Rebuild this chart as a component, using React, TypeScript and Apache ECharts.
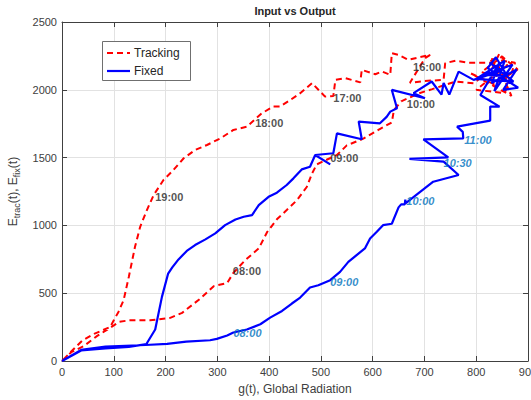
import React, { useEffect, useRef } from "react";
import * as echarts from "echarts";

// ---- Data ----
const xTickInterval = 100;
const xMin = 0;
const xMax = 900;
const yTickInterval = 500;
const yMin = 0;
const yMax = 2500;

// Tracking (red dashed) – morning climb, noon cluster, afternoon descent
const trackingMorning: [number, number][] = [
  [0, 0], [18, 65], [42, 110], [68, 185], [93, 245], [110, 288], [129, 300], [170, 300],
  [209, 318], [232, 355], [267, 460], [293, 552], [319, 575], [331, 650], [354, 744],
  [380, 830], [396, 950], [415, 1045], [434, 1113], [454, 1187], [473, 1285], [483, 1384],
  [492, 1450], [531, 1519], [550, 1590], [582, 1640], [611, 1704], [637, 1760], [641, 1850],
  [655, 1915], [690, 1975], [715, 2005], [735, 2030], [760, 2060], [795, 2049],
];
const trackingNoon: [number, number][] = [
  [830, 2150], [845, 2270], [860, 2180], [800, 2000], [855, 1975], [875, 2200], [825, 2230],
  [865, 2080], [810, 2130], [850, 2245], [880, 2150], [835, 2040], [790, 2120], [868, 1955],
  [840, 2200], [785, 2200], [760, 2215],
];
const trackingAfternoon: [number, number][] = [
  [740, 2196], [737, 2073], [700, 2065], [672, 2052], [701, 2233], [711, 2258], [669, 2221],
  [650, 2258], [637, 2270], [634, 2110], [618, 2135], [605, 2115], [579, 2147], [576, 2055],
  [547, 2086], [528, 2073], [524, 1954], [508, 1950], [483, 2049], [460, 1975], [441, 1925],
  [421, 1876], [408, 1876], [386, 1827], [357, 1728], [331, 1704], [306, 1642], [280, 1593],
  [257, 1556], [235, 1495], [215, 1408], [196, 1335], [177, 1224], [164, 1113], [151, 990],
  [141, 842], [129, 620], [119, 448], [109, 362], [100, 300], [93, 251], [62, 200], [39, 150],
  [15, 60], [0, 0],
];

// Fixed (blue solid)
const fixedMorning: [number, number][] = [
  [0, 0], [37, 82], [84, 106], [161, 118], [203, 126], [240, 143], [286, 153], [299, 163],
  [319, 188], [331, 210], [357, 232], [383, 271], [402, 320], [425, 369], [444, 424],
  [460, 468], [479, 542], [495, 559], [518, 596], [537, 657], [553, 731], [569, 781],
  [585, 830], [595, 904], [608, 953], [620, 1002], [637, 1012], [650, 1133], [655, 1155],
  [662, 1155], [663, 1190], [664, 1165], [717, 1322], [766, 1372], [737, 1470], [671, 1490],
  [746, 1502], [698, 1635], [775, 1642], [774, 1690], [763, 1728], [827, 1773], [827, 1876],
  [845, 1876], [808, 1962],
];
const fixedNoon: [number, number][] = [
  [845, 2200], [830, 2050], [878, 2150], [852, 2000], [881, 2015], [822, 2160], [838, 2240],
  [860, 2100], [815, 2110], [870, 2185], [835, 1990], [855, 2215], [800, 2080], [872, 2060],
  [826, 2200], [848, 2140], [795, 2073],
];
const fixedAfternoon: [number, number][] = [
  [766, 2134], [748, 1965], [737, 2050], [733, 1965], [714, 2061], [679, 1975], [701, 1938],
  [637, 1999], [647, 1864], [634, 1839], [627, 1800], [614, 1753], [573, 1765], [579, 1635],
  [531, 1679], [524, 1532], [489, 1519], [518, 1450], [489, 1519], [479, 1433], [463, 1413],
  [447, 1347], [434, 1298], [415, 1241], [399, 1211], [380, 1150], [367, 1076], [351, 1064],
  [335, 1044], [315, 1002], [296, 941], [277, 897], [257, 855], [241, 812], [225, 749],
  [213, 690], [205, 645], [193, 473], [180, 232], [163, 125], [129, 104], [84, 92], [37, 78],
  [0, 0],
];

// Time annotations (left edge x, vertical centre y, in data units)
const trackingLabelText = ["08:00", "09:00", "10:00", "16:00", "17:00", "18:00", "19:00"];
const trackingLabelX = [330, 518, 666, 678, 524, 373, 180];
const trackingLabelY = [665, 1495, 1894, 2167, 1942, 1758, 1208];

const fixedLabelText = ["08:00", "09:00", "10:00", "10:30", "11:00"];
const fixedLabelX = [331, 518, 665, 737, 777];
const fixedLabelY = [210, 583, 1182, 1462, 1630];

const seriesNames = ["Tracking", "Fixed"];
const seriesColors = ["#ff0000", "#0000ff"];

const FONT = "'Liberation Sans', Arial, Helvetica, sans-serif";

export default function App() {
  const ref = useRef<HTMLDivElement>(null);

  useEffect(() => {
    if (!ref.current) return;
    const chart = echarts.init(ref.current, undefined, { renderer: "svg" });

    const trackingData = [...trackingMorning, ...trackingNoon, ...trackingAfternoon];
    const fixedData = [...fixedMorning, ...fixedNoon, ...fixedAfternoon];

    const axisColor = "#404040";
    const gridColor = "#e2e2e2";
    const plainNum = (v: number) => String(v);

    // manual legend box (MATLAB style)
    const legendLeft = 102;
    const legendTop = 41;
    const legendGraphic = [
      {
        type: "rect",
        shape: { x: legendLeft + 0.5, y: legendTop + 0.5, width: 88, height: 39 },
        style: { fill: "#ffffff", stroke: "#6f6f6f", lineWidth: 1 },
        z: 100,
      },
      {
        type: "line",
        shape: { x1: legendLeft + 5, y1: legendTop + 12, x2: legendLeft + 28, y2: legendTop + 12 },
        style: { stroke: seriesColors[0], lineWidth: 2, lineDash: [6, 4] },
        z: 101,
      },
      {
        type: "line",
        shape: { x1: legendLeft + 5, y1: legendTop + 30, x2: legendLeft + 28, y2: legendTop + 30 },
        style: { stroke: seriesColors[1], lineWidth: 2.2 },
        z: 101,
      },
      {
        type: "text",
        x: legendLeft + 32,
        y: legendTop + 12,
        style: {
          text: seriesNames[0],
          fontFamily: FONT,
          fontSize: 12,
          fill: "#262626",
          textVerticalAlign: "middle",
        },
        z: 101,
      },
      {
        type: "text",
        x: legendLeft + 32,
        y: legendTop + 30,
        style: {
          text: seriesNames[1],
          fontFamily: FONT,
          fontSize: 12,
          fill: "#262626",
          textVerticalAlign: "middle",
        },
        z: 101,
      },
    ];

    const option: any = {
      animation: false,
      backgroundColor: "#ffffff",
      textStyle: { fontFamily: FONT },
      grid: { left: 62, right: 3, top: 22, bottom: 39, containLabel: false, outerBoundsMode: "none" },
      graphic: [
        {
          type: "text",
          x: 295,
          y: 11,
          style: {
            text: "Input vs Output",
            fontFamily: FONT,
            fontSize: 11,
            fontWeight: "bold",
            fill: "#262626",
            textAlign: "center",
            textVerticalAlign: "middle",
          },
        },
        ...legendGraphic,
      ],
      xAxis: [
        {
          type: "value",
          min: xMin,
          max: xMax,
          interval: xTickInterval,
          name: "g(t), Global Radiation",
          nameLocation: "middle",
          nameGap: 22,
          nameTextStyle: { fontSize: 12, color: axisColor, fontFamily: FONT },
          axisLine: { show: true, onZero: false, lineStyle: { color: axisColor, width: 1 } },
          axisTick: { show: true, inside: true, length: 5, lineStyle: { color: axisColor } },
          axisLabel: { color: axisColor, fontSize: 11, margin: 5, fontFamily: FONT, formatter: plainNum },
          splitLine: { show: true, lineStyle: { color: gridColor, width: 1 } },
        },
        {
          type: "value",
          position: "top",
          min: xMin,
          max: xMax,
          interval: xTickInterval,
          axisLine: { show: true, onZero: false, lineStyle: { color: axisColor, width: 1 } },
          axisTick: { show: true, inside: true, length: 5, lineStyle: { color: axisColor } },
          axisLabel: { show: false },
          splitLine: { show: false },
        },
      ],
      yAxis: [
        {
          type: "value",
          min: yMin,
          max: yMax,
          interval: yTickInterval,
          name: "{e|E}{s|trac}{e|(t), E}{s|fix}{e|(t)}",
          nameLocation: "middle",
          nameRotate: 90,
          nameGap: 33,
          nameTextStyle: {
            color: axisColor,
            fontFamily: FONT,
            rich: {
              e: { fontSize: 12, color: axisColor, fontFamily: FONT },
              s: { fontSize: 9, color: axisColor, fontFamily: FONT, padding: [9, 0, 0, 0] },
            },
          },
          axisLine: { show: true, onZero: false, lineStyle: { color: axisColor, width: 1 } },
          axisTick: { show: true, inside: true, length: 5, lineStyle: { color: axisColor } },
          axisLabel: { color: axisColor, fontSize: 11, margin: 5, fontFamily: FONT, formatter: plainNum },
          splitLine: { show: true, lineStyle: { color: gridColor, width: 1 } },
        },
        {
          type: "value",
          position: "right",
          min: yMin,
          max: yMax,
          interval: yTickInterval,
          axisLine: { show: true, onZero: false, lineStyle: { color: axisColor, width: 1 } },
          axisTick: { show: true, inside: true, length: 5, lineStyle: { color: axisColor } },
          axisLabel: { show: false },
          splitLine: { show: false },
        },
      ],
      series: [
        {
          name: seriesNames[0],
          type: "line",
          data: trackingData,
          symbol: "none",
          smooth: false,
          lineStyle: { color: seriesColors[0], width: 2, type: [6, 4] },
          itemStyle: { color: seriesColors[0] },
          z: 2,
        },
        {
          name: seriesNames[1],
          type: "line",
          data: fixedData,
          symbol: "none",
          smooth: false,
          lineStyle: { color: seriesColors[1], width: 2.2 },
          itemStyle: { color: seriesColors[1] },
          z: 3,
        },
        {
          type: "scatter",
          silent: true,
          symbolSize: 0,
          z: 5,
          data: trackingLabelText.map((t, i) => ({ name: t, value: [trackingLabelX[i], trackingLabelY[i]] })),
          label: {
            show: true,
            position: "right",
            distance: 0,
            formatter: "{b}",
            color: "#262626",
            fontSize: 11,
            fontWeight: "bold",
            fontFamily: FONT,
          },
        },
        {
          type: "scatter",
          silent: true,
          symbolSize: 0,
          z: 5,
          data: fixedLabelText.map((t, i) => ({ name: t, value: [fixedLabelX[i], fixedLabelY[i]] })),
          label: {
            show: true,
            position: "right",
            distance: 0,
            formatter: "{b}",
            color: "#0072bd",
            fontSize: 11,
            fontWeight: "bold",
            fontStyle: "italic",
            fontFamily: FONT,
          },
        },
      ],
    };

    chart.setOption(option);
    return () => {
      chart.dispose();
    };
  }, []);

  return (
    <div
      ref={ref}
      style={{ position: "absolute", left: 0, top: 0, width: 531, height: 400, background: "#fff" }}
    />
  );
}
